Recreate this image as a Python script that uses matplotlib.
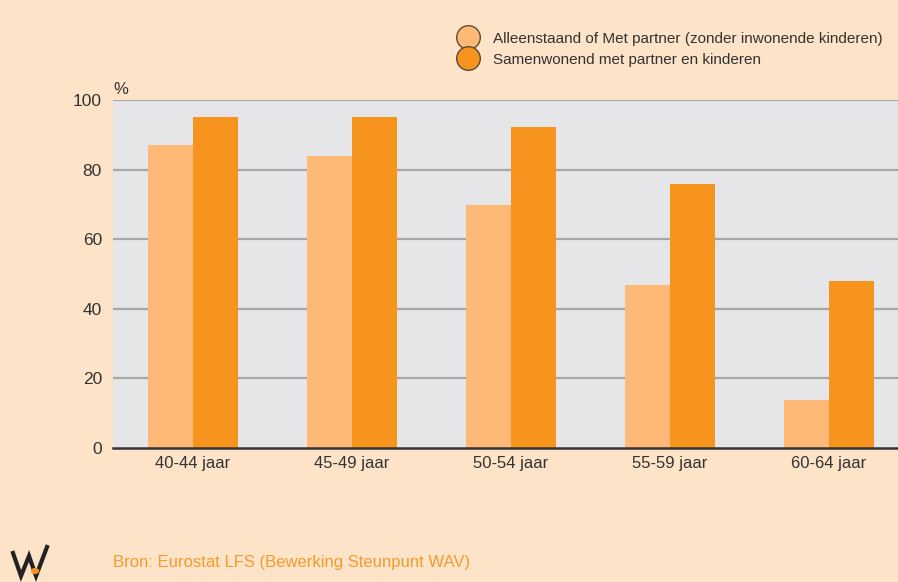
import numpy as np
import matplotlib.pyplot as plt
from matplotlib.lines import Line2D
from matplotlib.patches import Circle

categories = ['40-44 jaar', '45-49 jaar', '50-54 jaar', '55-59 jaar', '60-64 jaar']
alleen = [87.1, 83.9, 69.8, 46.8, 13.8]
samen = [95.1, 95.1, 92.2, 75.9, 48.0]
yticks = [0, 20, 40, 60, 80, 100]
series_names = ['Alleenstaand of Met partner (zonder inwonende kinderen)',
                'Samenwonend met partner en kinderen']

bg = '#FDE3C8'
light = '#FDB975'
dark = '#F7941D'
txt = '#333333'

plt.rcParams['font.family'] = ['Liberation Sans', 'DejaVu Sans']

W, H = 898, 582
fig = plt.figure(figsize=(W / 100, H / 100), dpi=100, facecolor=bg)
ax = fig.add_axes([113/W, 1 - 448/H, 1 - 113/W, 348/H])
ax.set_facecolor('#E6E6E8')

x = np.arange(len(categories))
w = 0.283
ax.bar(x - w/2, alleen, w, color=light, zorder=3)
ax.bar(x + w/2, samen, w, color=dark, zorder=3)

ax.set_xlim(-0.503, 4.434)
ax.set_ylim(0, 100)
ax.set_yticks(yticks)
ax.set_yticklabels([str(v) for v in yticks], fontsize=12.5, color=txt)
ax.set_xticks(x)
ax.set_xticklabels(categories, fontsize=12, color=txt)
ax.tick_params(axis='both', length=0)
ax.tick_params(axis='y', pad=8)
ax.tick_params(axis='x', pad=6)
for v in yticks[1:]:
    ax.axhline(v, color='#A7A7A7', lw=1.6, zorder=2)
ax.axhline(0, color='#333333', lw=1.8, zorder=4, clip_on=False)
for s in ax.spines.values():
    s.set_visible(False)

fig.text(113/W, 1 - 90/H, '%', fontsize=12, color=txt, ha='left', va='center')

handles = [Line2D([], [], marker='o', ls='none', markersize=17, markerfacecolor=c,
                  markeredgecolor='#5a4a3a', markeredgewidth=1) for c in (light, dark)]
fig.legend(handles, series_names, loc='upper left', bbox_to_anchor=(451/W, 1 - 24/H),
           frameon=False, fontsize=11, handletextpad=1.05, labelspacing=0.45,
           borderpad=0, handlelength=1.2, labelcolor=txt)

fig.text(113/W, 1 - 563/H, 'Bron: Eurostat LFS (Bewerking Steunpunt WAV)',
         fontsize=12, color='#F39A2E', ha='left', va='center')

# logo
lx = [13, 21, 29, 36, 47]
ly = [553, 576, 556, 576, 547]
fig.add_artist(Line2D([v / W for v in lx], [1 - v / H for v in ly], color='#222222',
                      lw=3, solid_joinstyle='miter', transform=fig.transFigure))
fig.add_artist(Circle((35 / W, 1 - 571 / H), 3.5 / W, color=dark, transform=fig.transFigure,
                      zorder=5))

fig.savefig('out.png', dpi=100, facecolor=bg)
